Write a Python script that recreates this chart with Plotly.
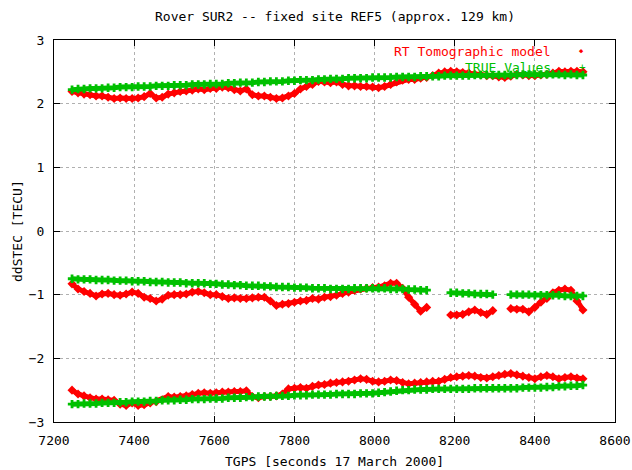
import plotly.graph_objects as go

# Time grid (seconds, GPS time 17 March 2000), 15 s sampling
times = [7245 + 15 * i for i in range(86)]

# --- RT Tomographic model (three double-difference arcs) ---
rt_top = [2.19, 2.17, 2.15, 2.14, 2.12, 2.12, 2.10, 2.08, 2.09, 2.08,
          2.08, 2.09, 2.11, 2.16, 2.09, 2.10, 2.15, 2.17, 2.19, 2.20,
          2.21, 2.23, 2.22, 2.24, 2.24, 2.26, 2.25, 2.22, 2.20, 2.23,
          2.14, 2.12, 2.12, 2.10, 2.08, 2.09, 2.12, 2.16, 2.23, 2.27,
          2.30, 2.35, 2.34, 2.33, 2.34, 2.30, 2.28, 2.28, 2.27, 2.27,
          2.26, 2.25, 2.27, 2.30, 2.34, 2.37, 2.38, 2.38, 2.40, 2.41,
          2.44, 2.48, 2.50, 2.51, 2.50, 2.49, 2.48, 2.46, 2.45, 2.44,
          2.44, 2.42, 2.41, 2.43, 2.46, 2.45, 2.44, 2.44, 2.45, 2.46,
          2.48, 2.51, 2.50, 2.51, 2.51, 2.50]

rt_mid = [-0.83, -0.91, -0.95, -0.98, -1.02, -0.99, -0.98, -1.00, -1.01, -0.99,
          -0.96, -0.98, -1.04, -1.06, -1.10, -1.07, -1.01, -1.00, -1.00, -0.99,
          -0.96, -0.95, -0.97, -1.00, -1.00, -1.03, -1.06, -1.05, -1.06, -1.06,
          -1.05, -1.04, -1.04, -1.10, -1.17, -1.15, -1.14, -1.12, -1.10, -1.09,
          -1.06, -1.07, -1.04, -1.03, -1.01, -0.98, -0.96, -0.93, -0.91, -0.90,
          -0.89, -0.88, -0.86, -0.82, -0.82, -0.90, -1.04, -1.15, -1.26, -1.20,
          None, None, None, -1.32, -1.32, -1.31, -1.27, -1.24, -1.28, -1.31,
          -1.25, None, None, -1.22, -1.23, -1.23, -1.27, -1.20, -1.12, -1.06,
          -0.97, -0.93, -0.91, -0.93, -1.10, -1.24]

rt_bot = [-2.50, -2.56, -2.59, -2.62, -2.64, -2.64, -2.65, -2.66, -2.72, -2.74,
          -2.70, -2.74, -2.73, -2.70, -2.68, -2.65, -2.60, -2.61, -2.60, -2.59,
          -2.57, -2.55, -2.54, -2.55, -2.54, -2.53, -2.53, -2.52, -2.52, -2.51,
          -2.60, -2.62, -2.60, -2.60, -2.59, -2.56, -2.48, -2.47, -2.46, -2.47,
          -2.44, -2.42, -2.41, -2.39, -2.38, -2.37, -2.36, -2.34, -2.32, -2.33,
          -2.36, -2.37, -2.36, -2.34, -2.35, -2.38, -2.40, -2.39, -2.38, -2.37,
          -2.36, -2.36, -2.33, -2.30, -2.29, -2.28, -2.27, -2.28, -2.30, -2.31,
          -2.29, -2.27, -2.25, -2.24, -2.26, -2.28, -2.30, -2.32, -2.29, -2.27,
          -2.29, -2.32, -2.30, -2.29, -2.31, -2.32]

# --- TRUE values ---
true_top = [2.22, 2.23, 2.23, 2.24, 2.24, 2.24, 2.25, 2.25, 2.26, 2.26,
            2.26, 2.27, 2.27, 2.27, 2.28, 2.28, 2.28, 2.29, 2.29, 2.29,
            2.30, 2.30, 2.30, 2.31, 2.31, 2.31, 2.32, 2.32, 2.33, 2.33,
            2.33, 2.34, 2.34, 2.35, 2.35, 2.35, 2.36, 2.36, 2.37, 2.37,
            2.37, 2.38, 2.38, 2.39, 2.39, 2.39, 2.40, 2.40, 2.40, 2.40,
            2.41, 2.41, 2.41, 2.41, 2.42, 2.42, 2.42, 2.42, 2.43, 2.43,
            2.43, 2.43, 2.44, 2.44, 2.44, 2.44, 2.44, 2.45, 2.45, 2.45,
            2.45, 2.45, 2.45, 2.45, 2.45, 2.46, 2.46, 2.46, 2.46, 2.46,
            2.46, 2.46, 2.45, 2.46, 2.45, 2.45]

true_mid = [-0.75, -0.76, -0.76, -0.76, -0.77, -0.77, -0.77, -0.78, -0.78, -0.78,
            -0.79, -0.79, -0.79, -0.80, -0.80, -0.80, -0.81, -0.81, -0.81, -0.82,
            -0.82, -0.82, -0.82, -0.83, -0.83, -0.84, -0.84, -0.85, -0.85, -0.86,
            -0.86, -0.86, -0.87, -0.87, -0.88, -0.88, -0.88, -0.89, -0.89, -0.89,
            -0.90, -0.90, -0.90, -0.91, -0.91, -0.91, -0.91, -0.90, -0.90, -0.90,
            -0.90, -0.90, -0.90, -0.91, -0.91, -0.91, -0.92, -0.92, -0.93, -0.93,
            None, None, None, -0.97, -0.97, -0.98, -0.98, -0.99, -0.99, -0.99,
            -1.00, None, None, -1.00, -1.00, -1.00, -1.00, -1.01, -1.01, -1.01,
            -1.01, -1.01, -1.02, -1.02, -1.02, -1.02]

true_bot = [-2.72, -2.72, -2.71, -2.71, -2.71, -2.70, -2.70, -2.70, -2.69, -2.69,
            -2.68, -2.68, -2.68, -2.67, -2.67, -2.66, -2.66, -2.66, -2.65, -2.65,
            -2.64, -2.64, -2.64, -2.63, -2.63, -2.63, -2.62, -2.62, -2.62, -2.61,
            -2.61, -2.60, -2.60, -2.60, -2.59, -2.59, -2.59, -2.58, -2.58, -2.58,
            -2.57, -2.57, -2.57, -2.57, -2.56, -2.56, -2.56, -2.56, -2.55, -2.55,
            -2.55, -2.54, -2.53, -2.52, -2.51, -2.50, -2.50, -2.49, -2.49, -2.49,
            -2.48, -2.48, -2.48, -2.48, -2.48, -2.48, -2.48, -2.47, -2.47, -2.47,
            -2.47, -2.47, -2.47, -2.47, -2.47, -2.46, -2.46, -2.46, -2.46, -2.45,
            -2.45, -2.44, -2.44, -2.43, -2.43, -2.42]

x_ticks = [7200, 7400, 7600, 7800, 8000, 8200, 8400, 8600]
y_ticks = [-3, -2, -1, 0, 1, 2, 3]

title_text = "Rover SUR2 -- fixed site REF5 (approx. 129 km)"
x_title = "TGPS [seconds 17 March 2000]"
y_title = "ddSTEC [TECU]"
rt_name = "RT Tomographic model"
true_name = "TRUE Values"

RED = "#ff0000"
GREEN = "#00c000"
FONT = "DejaVu Sans Mono"

fig = go.Figure()

x_all = times + [None] + times + [None] + times
rt_all = rt_top + [None] + rt_mid + [None] + rt_bot
true_all = true_top + [None] + true_mid + [None] + true_bot

fig.add_trace(go.Scatter(x=x_all, y=rt_all, mode="lines+markers", name=rt_name,
                         line=dict(color=RED, width=5),
                         marker=dict(symbol="diamond", size=7, color=RED,
                                     line=dict(width=0)),
                         showlegend=False))
fig.add_trace(go.Scatter(x=x_all, y=true_all, mode="lines+markers", name=true_name,
                         line=dict(color=GREEN, width=5),
                         marker=dict(symbol="cross", size=7, color=GREEN,
                                     line=dict(width=0)),
                         showlegend=False))

axis_common = dict(showline=True, linecolor="black", linewidth=1, mirror="ticks",
                   ticks="inside", ticklen=6, tickcolor="black", automargin=False,
                   showgrid=True, gridcolor="#b0b0b0", gridwidth=1, griddash="dot",
                   zeroline=False, tickfont=dict(family=FONT, size=13, color="black"))

fig.update_xaxes(range=[7200, 8600], tickvals=x_ticks,
                 ticktext=[str(v) for v in x_ticks], ticklabelstandoff=6,
                 **axis_common)
fig.update_yaxes(range=[-3, 3], tickvals=y_ticks,
                 ticktext=[str(v).replace("-", "\u2212") for v in y_ticks],
                 ticklabelstandoff=6, **axis_common)

ann = []
ann.append(dict(text=title_text, xref="paper", yref="paper", x=0.5, y=1,
                yshift=24, xanchor="center", yanchor="middle", showarrow=False,
                font=dict(family=FONT, size=13, color="black")))
ann.append(dict(text=x_title, xref="paper", yref="paper", x=0.5, y=0,
                yshift=-39, xanchor="center", yanchor="middle", showarrow=False,
                font=dict(family=FONT, size=13, color="black")))
ann.append(dict(text=y_title, xref="paper", yref="paper", x=0, y=0.5,
                xshift=-37, xanchor="center", yanchor="middle", textangle=-90,
                showarrow=False, font=dict(family=FONT, size=13, color="black")))
# key (gnuplot style: text then sample)
ann.append(dict(text=rt_name, xref="paper", yref="paper", x=1, y=1,
                xshift=-62, yshift=-11, xanchor="right", yanchor="middle",
                showarrow=False, font=dict(family=FONT, size=13, color=RED)))
ann.append(dict(text="\u25c6", xref="paper", yref="paper", x=1, y=1,
                xshift=-34, yshift=-11, xanchor="center", yanchor="middle",
                showarrow=False, font=dict(family=FONT, size=7, color=RED)))
ann.append(dict(text=true_name, xref="paper", yref="paper", x=1, y=1,
                xshift=-62, yshift=-27, xanchor="right", yanchor="middle",
                showarrow=False, font=dict(family=FONT, size=13, color=GREEN)))
ann.append(dict(text="+", xref="paper", yref="paper", x=1, y=1,
                xshift=-33, yshift=-27, xanchor="center", yanchor="middle",
                showarrow=False, font=dict(family=FONT, size=11, color=GREEN)))

fig.update_layout(width=632, height=470, margin=dict(l=54, r=17, t=40, b=48),
                  paper_bgcolor="white", plot_bgcolor="white",
                  annotations=ann, showlegend=False)

fig.write_html("out.html")
